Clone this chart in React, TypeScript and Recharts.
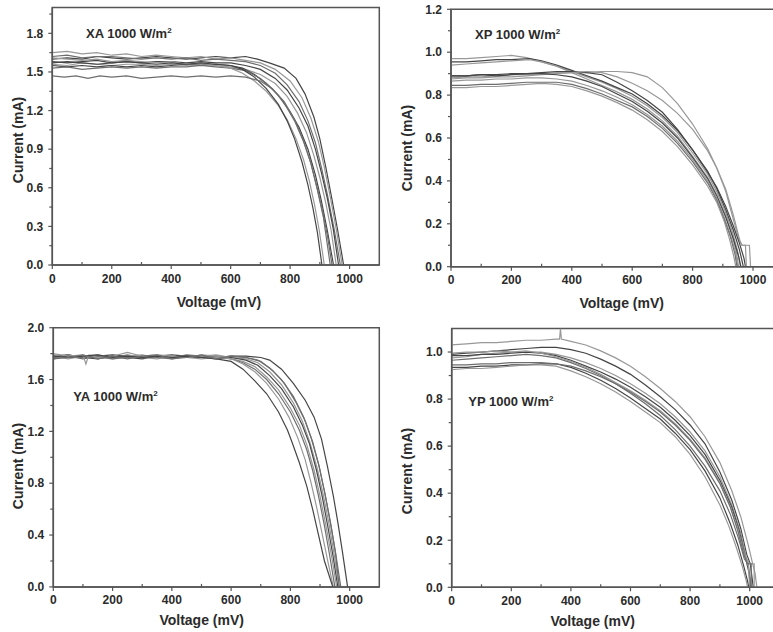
import { LineChart, Line, XAxis, YAxis, ReferenceArea } from 'recharts'

type Pt = [number, number]

// ---- XA 1000 W/m2 : voltage (mV), current (mA)
const xa1: Pt[] = [[0,1.60],[50,1.61],[100,1.60],[150,1.62],[200,1.61],[250,1.60],[300,1.61],[350,1.62],[400,1.61],[450,1.60],[500,1.61],[550,1.62],[600,1.61],[650,1.62],[690,1.60],[730,1.57],[780,1.53],[820,1.45],[850,1.33],[880,1.15],[900,0.98],[920,0.76],[940,0.52],[960,0.27],[980,0]]
const xa2: Pt[] = [[0,1.65],[50,1.66],[100,1.64],[150,1.65],[200,1.63],[250,1.64],[300,1.62],[350,1.63],[400,1.62],[450,1.61],[500,1.62],[550,1.60],[600,1.61],[650,1.59],[700,1.57],[750,1.52],[800,1.43],[840,1.30],[870,1.14],[895,0.96],[915,0.76],[935,0.53],[955,0.28],[975,0]]
const xa3: Pt[] = [[0,1.62],[50,1.63],[100,1.61],[150,1.62],[200,1.62],[250,1.61],[300,1.60],[350,1.61],[400,1.60],[450,1.61],[500,1.59],[550,1.60],[600,1.59],[650,1.58],[700,1.55],[750,1.49],[790,1.40],[830,1.27],[860,1.12],[885,0.95],[905,0.76],[925,0.55],[948,0.28],[969,0]]
const xa4: Pt[] = [[0,1.58],[50,1.57],[100,1.58],[150,1.59],[200,1.57],[250,1.58],[300,1.57],[350,1.58],[400,1.58],[450,1.57],[500,1.58],[550,1.57],[600,1.57],[650,1.55],[700,1.52],[750,1.45],[790,1.36],[830,1.22],[860,1.08],[885,0.90],[905,0.72],[925,0.52],[945,0.28],[963,0]]
const xa5: Pt[] = [[0,1.56],[50,1.55],[100,1.57],[150,1.56],[200,1.55],[250,1.56],[300,1.56],[350,1.55],[400,1.56],[450,1.55],[500,1.56],[550,1.55],[600,1.54],[650,1.52],[700,1.48],[750,1.41],[790,1.31],[825,1.18],[855,1.03],[880,0.85],[900,0.68],[920,0.48],[938,0.27],[955,0]]
const xa6: Pt[] = [[0,1.55],[50,1.54],[100,1.55],[150,1.54],[200,1.55],[250,1.54],[300,1.55],[350,1.54],[400,1.55],[450,1.56],[500,1.55],[550,1.56],[600,1.55],[640,1.53],[680,1.48],[720,1.41],[760,1.32],[800,1.19],[830,1.07],[860,0.90],[885,0.70],[905,0.50],[925,0.27],[946,0]]
const xa7: Pt[] = [[0,1.53],[50,1.54],[100,1.52],[150,1.53],[200,1.54],[250,1.53],[300,1.54],[350,1.53],[400,1.54],[450,1.54],[500,1.55],[550,1.54],[600,1.53],[650,1.51],[700,1.45],[740,1.37],[780,1.26],[815,1.12],[845,0.96],[870,0.79],[892,0.59],[910,0.41],[926,0.22],[941,0]]
const xa8: Pt[] = [[0,1.61],[50,1.60],[100,1.59],[150,1.60],[200,1.58],[250,1.59],[300,1.58],[350,1.57],[400,1.58],[450,1.56],[500,1.57],[550,1.55],[600,1.53],[640,1.49],[680,1.43],[720,1.35],[760,1.24],[790,1.13],[820,0.98],[845,0.82],[865,0.65],[882,0.47],[898,0.27],[915,0]]
const xa9: Pt[] = [[0,1.57],[50,1.58],[100,1.57],[150,1.56],[200,1.57],[250,1.58],[300,1.57],[350,1.56],[400,1.57],[450,1.56],[500,1.57],[550,1.56],[600,1.55],[640,1.52],[680,1.46],[720,1.37],[760,1.25],[790,1.12],[815,0.98],[840,0.80],[860,0.62],[877,0.44],[892,0.25],[907,0]]
const xa10: Pt[] = [[0,1.47],[40,1.46],[80,1.47],[120,1.45],[160,1.47],[200,1.46],[250,1.47],[300,1.45],[350,1.46],[400,1.47],[450,1.46],[500,1.47],[550,1.46],[600,1.47],[650,1.46],[700,1.43],[740,1.37],[780,1.27],[815,1.13],[845,0.97],[870,0.79],[892,0.58],[912,0.37],[935,0]]

// ---- XP 1000 W/m2
const xp1: Pt[] = [[0,0.97],[50,0.97],[100,0.975],[150,0.98],[200,0.985],[250,0.975],[300,0.955],[350,0.935],[400,0.91],[450,0.885],[500,0.86],[550,0.83],[600,0.795],[650,0.75],[700,0.695],[750,0.625],[800,0.53],[850,0.43],[880,0.35],[910,0.25],[930,0.17],[948,0.08],[958,0]]
const xp2: Pt[] = [[0,0.955],[50,0.955],[100,0.96],[150,0.965],[200,0.965],[260,0.97],[300,0.96],[350,0.94],[400,0.915],[450,0.89],[500,0.865],[550,0.835],[600,0.805],[650,0.76],[700,0.705],[750,0.635],[800,0.545],[850,0.445],[880,0.365],[910,0.265],[935,0.17],[955,0.08],[968,0]]
const xp3: Pt[] = [[0,0.94],[50,0.945],[100,0.95],[150,0.955],[200,0.96],[260,0.965],[300,0.955],[350,0.935],[400,0.905],[450,0.875],[500,0.845],[550,0.815],[600,0.78],[650,0.735],[700,0.68],[750,0.61],[800,0.515],[850,0.415],[880,0.335],[910,0.235],[930,0.15],[945,0.07],[952,0]]
const xp4: Pt[] = [[0,0.88],[50,0.885],[100,0.885],[150,0.89],[200,0.895],[250,0.895],[300,0.90],[350,0.905],[400,0.905],[450,0.905],[500,0.91],[550,0.91],[600,0.905],[650,0.885],[700,0.835],[750,0.76],[800,0.665],[850,0.55],[880,0.46],[910,0.35],[935,0.22],[955,0.12],[965,0.10],[988,0.10],[992,0]]
const xp5: Pt[] = [[0,0.89],[50,0.89],[100,0.895],[150,0.895],[200,0.90],[250,0.90],[300,0.905],[350,0.91],[400,0.91],[450,0.905],[500,0.895],[550,0.86],[600,0.82],[650,0.775],[700,0.72],[750,0.64],[800,0.545],[850,0.44],[880,0.37],[910,0.28],[935,0.19],[955,0.11],[970,0.04],[975,0]]
const xp6: Pt[] = [[0,0.875],[50,0.88],[100,0.88],[150,0.885],[200,0.885],[250,0.89],[300,0.895],[350,0.90],[400,0.905],[450,0.91],[500,0.905],[550,0.885],[600,0.855],[650,0.82],[700,0.775],[750,0.715],[800,0.64],[850,0.54],[880,0.46],[910,0.36],[935,0.24],[955,0.13],[962,0.10],[975,0.10],[978,0]]
const xp7: Pt[] = [[0,0.89],[50,0.89],[100,0.895],[150,0.89],[200,0.895],[250,0.90],[300,0.90],[350,0.895],[400,0.885],[450,0.865],[500,0.84],[550,0.805],[600,0.77],[650,0.725],[700,0.67],[750,0.60],[800,0.51],[850,0.41],[880,0.33],[910,0.23],[935,0.13],[952,0.05],[960,0]]
const xp8: Pt[] = [[0,0.865],[50,0.87],[100,0.87],[150,0.875],[200,0.875],[250,0.88],[300,0.88],[350,0.875],[400,0.865],[450,0.845],[500,0.82],[550,0.79],[600,0.755],[650,0.71],[700,0.655],[750,0.585],[800,0.50],[850,0.40],[880,0.32],[905,0.23],[925,0.15],[942,0.07],[950,0]]
const xp9: Pt[] = [[0,0.845],[50,0.845],[100,0.85],[150,0.85],[200,0.855],[250,0.86],[300,0.86],[350,0.86],[400,0.85],[450,0.83],[500,0.805],[550,0.775],[600,0.745],[650,0.70],[700,0.645],[750,0.575],[800,0.49],[850,0.39],[880,0.31],[905,0.22],[925,0.14],[940,0.06],[947,0]]
const xp10: Pt[] = [[0,0.835],[50,0.835],[100,0.84],[150,0.84],[200,0.845],[250,0.85],[300,0.855],[350,0.85],[400,0.84],[450,0.82],[500,0.795],[550,0.765],[600,0.73],[650,0.685],[700,0.63],[750,0.56],[800,0.475],[850,0.375],[880,0.30],[905,0.21],[922,0.13],[936,0.05],[943,0]]

// ---- YA 1000 W/m2
const ya1: Pt[] = [[0,1.78],[50,1.79],[100,1.77],[150,1.78],[200,1.79],[250,1.78],[300,1.77],[350,1.78],[400,1.79],[450,1.78],[500,1.78],[550,1.77],[600,1.78],[650,1.78],[700,1.77],[730,1.75],[770,1.68],[810,1.57],[850,1.44],[880,1.31],[905,1.14],[925,0.93],[945,0.70],[960,0.50],[975,0.28],[993,0]]
const ya2: Pt[] = [[0,1.77],[50,1.78],[100,1.76],[150,1.78],[200,1.77],[250,1.79],[300,1.77],[350,1.78],[400,1.77],[450,1.79],[500,1.78],[550,1.77],[600,1.78],[650,1.77],[690,1.75],[730,1.69],[770,1.60],[810,1.47],[845,1.31],[870,1.15],[895,0.95],[915,0.74],[935,0.50],[952,0.27],[970,0]]
const ya3: Pt[] = [[0,1.79],[50,1.77],[100,1.78],[150,1.79],[200,1.77],[250,1.78],[300,1.79],[350,1.77],[400,1.78],[450,1.77],[500,1.78],[550,1.79],[600,1.77],[650,1.76],[690,1.73],[730,1.66],[770,1.56],[810,1.42],[840,1.28],[865,1.12],[890,0.92],[910,0.72],[930,0.49],[947,0.26],[964,0]]
const ya4: Pt[] = [[0,1.76],[50,1.78],[100,1.77],[150,1.76],[200,1.78],[250,1.77],[300,1.76],[350,1.78],[400,1.77],[450,1.78],[500,1.77],[550,1.76],[600,1.77],[650,1.75],[690,1.71],[730,1.63],[770,1.53],[810,1.39],[840,1.25],[865,1.10],[888,0.90],[908,0.69],[926,0.47],[943,0.25],[960,0]]
const ya5: Pt[] = [[0,1.78],[50,1.76],[100,1.78],[150,1.77],[200,1.76],[250,1.78],[300,1.77],[350,1.76],[400,1.78],[450,1.77],[500,1.76],[550,1.77],[600,1.76],[640,1.74],[680,1.70],[720,1.62],[760,1.52],[800,1.38],[830,1.25],[855,1.10],[880,0.90],[900,0.70],[920,0.47],[938,0.25],[956,0]]
const ya6: Pt[] = [[0,1.77],[50,1.79],[100,1.77],[150,1.78],[200,1.76],[250,1.77],[300,1.78],[350,1.77],[400,1.76],[450,1.78],[500,1.77],[550,1.78],[600,1.76],[640,1.73],[680,1.68],[720,1.60],[760,1.49],[800,1.35],[830,1.21],[855,1.06],[875,0.90],[895,0.70],[915,0.47],[932,0.25],[950,0]]
const ya7: Pt[] = [[0,1.80],[50,1.78],[100,1.79],[110,1.72],[120,1.79],[150,1.77],[200,1.78],[250,1.81],[300,1.78],[350,1.79],[400,1.78],[450,1.77],[500,1.79],[550,1.78],[600,1.76],[640,1.72],[680,1.66],[720,1.57],[760,1.45],[795,1.31],[825,1.15],[850,0.98],[870,0.80],[890,0.60],[908,0.40],[926,0.20],[945,0]]
const ya8: Pt[] = [[0,1.78],[50,1.77],[100,1.78],[150,1.79],[200,1.77],[250,1.78],[300,1.77],[350,1.78],[400,1.77],[450,1.78],[500,1.77],[550,1.76],[600,1.74],[640,1.68],[680,1.59],[720,1.49],[760,1.35],[790,1.21],[805,1.12],[830,0.96],[855,0.78],[875,0.60],[895,0.40],[915,0.20],[943,0]]
const ya9: Pt[] = [[0,1.76],[50,1.77],[100,1.79],[150,1.76],[200,1.78],[250,1.76],[300,1.78],[350,1.79],[400,1.76],[450,1.77],[500,1.79],[550,1.76],[600,1.78],[650,1.77],[700,1.74],[740,1.67],[780,1.57],[820,1.42],[850,1.28],[875,1.12],[898,0.92],[918,0.70],[937,0.47],[952,0.26],[965,0]]

// ---- YP 1000 W/m2
const yp1: Pt[] = [[0,1.03],[50,1.035],[100,1.04],[150,1.04],[200,1.045],[250,1.05],[300,1.05],[350,1.055],[362,1.055],[365,1.10],[368,1.055],[400,1.045],[450,1.03],[500,1.005],[550,0.975],[600,0.94],[650,0.895],[700,0.845],[750,0.79],[800,0.725],[850,0.64],[900,0.53],[940,0.41],[970,0.30],[995,0.18],[1010,0.10],[1018,0.06],[1024,0]]
const yp2: Pt[] = [[0,0.99],[50,0.995],[100,1.0],[150,1.005],[200,1.01],[250,1.015],[300,1.02],[350,1.02],[400,1.01],[450,0.995],[500,0.97],[550,0.94],[600,0.905],[650,0.86],[700,0.81],[750,0.755],[800,0.69],[850,0.61],[900,0.49],[940,0.37],[970,0.25],[990,0.14],[1002,0.10],[1012,0]]
const yp3: Pt[] = [[0,0.975],[50,0.98],[100,0.99],[150,0.995],[200,1.0],[250,1.0],[300,1.0],[350,0.99],[400,0.975],[450,0.955],[500,0.93],[550,0.90],[600,0.865],[650,0.825],[700,0.78],[750,0.725],[800,0.66],[850,0.58],[900,0.47],[940,0.35],[970,0.23],[990,0.12],[1000,0.10],[1015,0.10],[1015,0]]
const yp4: Pt[] = [[0,0.985],[50,0.985],[100,0.99],[150,0.99],[200,0.995],[250,1.0],[300,0.995],[350,0.985],[400,0.965],[450,0.94],[500,0.915],[550,0.885],[600,0.85],[650,0.81],[700,0.765],[750,0.71],[800,0.645],[850,0.565],[900,0.455],[940,0.34],[965,0.24],[985,0.13],[998,0.06],[1003,0]]
const yp5: Pt[] = [[0,0.965],[50,0.97],[100,0.975],[150,0.98],[200,0.985],[250,0.99],[300,0.985],[350,0.975],[400,0.955],[450,0.93],[500,0.90],[550,0.865],[600,0.825],[650,0.78],[700,0.73],[750,0.67],[800,0.60],[850,0.515],[900,0.41],[935,0.31],[962,0.21],[982,0.12],[995,0.10],[1005,0]]
const yp6: Pt[] = [[0,0.995],[50,1.0],[100,1.0],[150,1.005],[200,1.0],[250,1.005],[300,0.995],[350,0.98],[400,0.96],[450,0.935],[500,0.905],[550,0.87],[600,0.835],[650,0.795],[700,0.75],[750,0.695],[800,0.63],[850,0.55],[900,0.445],[935,0.345],[960,0.25],[980,0.15],[995,0.10],[1000,0]]
const yp7: Pt[] = [[0,0.935],[50,0.935],[100,0.94],[150,0.94],[200,0.945],[250,0.945],[300,0.95],[350,0.95],[400,0.935],[450,0.91],[500,0.88],[550,0.845],[600,0.805],[650,0.76],[700,0.715],[750,0.655],[800,0.585],[850,0.495],[900,0.38],[935,0.27],[960,0.18],[980,0.09],[992,0.03],[997,0]]
const yp8: Pt[] = [[0,0.925],[50,0.93],[100,0.93],[150,0.935],[200,0.94],[250,0.945],[300,0.945],[350,0.94],[400,0.92],[450,0.895],[500,0.865],[550,0.83],[600,0.79],[650,0.745],[700,0.70],[750,0.64],[800,0.565],[850,0.47],[900,0.35],[930,0.26],[955,0.17],[975,0.09],[988,0.03],[993,0]]
const yp9: Pt[] = [[0,0.945],[50,0.945],[100,0.95],[150,0.95],[200,0.955],[250,0.955],[300,0.955],[350,0.95],[400,0.94],[450,0.92],[500,0.895],[550,0.865],[600,0.83],[650,0.79],[700,0.745],[750,0.69],[800,0.625],[850,0.545],[900,0.44],[935,0.34],[960,0.24],[980,0.14],[992,0.10],[1005,0.10],[1005,0]]

// axis ticks (major + minor, alternating)
const voltTicks = [0, 100, 200, 300, 400, 500, 600, 700, 800, 900, 1000]
const xaTicks = [0, 0.15, 0.3, 0.45, 0.6, 0.75, 0.9, 1.05, 1.2, 1.35, 1.5, 1.65, 1.8, 1.95]
const xpTicks = [0, 0.1, 0.2, 0.3, 0.4, 0.5, 0.6, 0.7, 0.8, 0.9, 1.0, 1.1, 1.2]
const yaTicks = [0, 0.2, 0.4, 0.6, 0.8, 1.0, 1.2, 1.4, 1.6, 1.8, 2.0]
const ypTicks = [0, 0.1, 0.2, 0.3, 0.4, 0.5, 0.6, 0.7, 0.8, 0.9, 1.0]

const DARK = '#454545'
const MID = '#6e6e6e'
const LIGHT = '#989898'
const AXIS = '#555'
const INK = '#2b2b2b'
const FONT = '"Liberation Sans", Arial, sans-serif'
const TICK = 4
const GAP = 5

function XTick(props: any) {
  const { x, y, payload, index } = props
  const base = y - TICK - GAP
  const major = index % 2 === 0
  return (
    <g>
      <line x1={x} x2={x} y1={base} y2={major ? base + TICK : base - 3} stroke={AXIS} strokeWidth={1.2} />
      {major && (
        <text x={x} y={y} dy="0.71em" textAnchor="middle" fontSize={12} fontWeight="bold" fill={INK} fontFamily={FONT}>
          {payload.value}
        </text>
      )}
    </g>
  )
}

function YTick(props: any) {
  const { x, y, payload, index } = props
  const base = x + TICK + GAP
  const major = index % 2 === 0
  return (
    <g>
      <line x1={base} x2={base - (major ? TICK : 3)} y1={y} y2={y} stroke={AXIS} strokeWidth={1.2} />
      {major && (
        <text x={x} y={y} dy="0.355em" textAnchor="end" fontSize={12} fontWeight="bold" fill={INK} fontFamily={FONT}>
          {Number(payload.value).toFixed(1)}
        </text>
      )}
    </g>
  )
}

interface PanelProps {
  curves: Pt[][]
  strokes: string[]
  left: number
  top: number
  width: number
  height: number
  plotTop: number
  plotRight: number
  yAxisWidth: number
  xAxisHeight: number
  yMax: number
  yTicks: number[]
}

function Panel(p: PanelProps) {
  return (
    <div style={{ position: 'absolute', left: p.left, top: p.top }}>
      <LineChart
        width={p.width}
        height={p.height}
        margin={{ top: p.plotTop, right: p.width - p.plotRight, bottom: 0, left: 0 }}
      >
        <XAxis
          dataKey="v"
          type="number"
          domain={[0, 1100]}
          ticks={voltTicks}
          interval={0}
          height={p.xAxisHeight}
          tickSize={TICK}
          tickMargin={GAP}
          tickLine={false}
          tick={<XTick />}
          axisLine={{ stroke: AXIS, strokeWidth: 1.5 }}
        />
        <YAxis
          type="number"
          domain={[0, p.yMax]}
          ticks={p.yTicks}
          interval={0}
          width={p.yAxisWidth}
          tickSize={TICK}
          tickMargin={GAP}
          tickLine={false}
          tick={<YTick />}
          axisLine={{ stroke: AXIS, strokeWidth: 1.5 }}
          allowDataOverflow
        />
        <ReferenceArea x1={0} x2={1100} y1={0} y2={p.yMax} fill="none" stroke={AXIS} strokeWidth={1.5} ifOverflow="visible" />
        {p.curves.map((c, k) => (
          <Line
            key={k}
            data={c.map(([v, i]) => ({ v, i }))}
            dataKey="i"
            type="linear"
            dot={false}
            activeDot={false}
            stroke={p.strokes[k]}
            strokeWidth={1.2}
            isAnimationActive={false}
          />
        ))}
      </LineChart>
    </div>
  )
}

function Tag({ name, x, y }: { name: string; x: number; y: number }) {
  return (
    <div style={{ position: 'absolute', left: x, top: y - 6.5, fontFamily: FONT, fontWeight: 'bold', fontSize: 13, lineHeight: '13px', color: INK, whiteSpace: 'nowrap' }}>
      {name} 1000 W/m<span style={{ fontSize: 8, position: 'relative', top: -5 }}>2</span>
    </div>
  )
}

function Title({ text, x, y, vertical }: { text: string; x: number; y: number; vertical?: boolean }) {
  return (
    <div
      style={{
        position: 'absolute', left: x, top: y, fontFamily: FONT, fontWeight: 'bold', fontSize: 14,
        lineHeight: '14px', color: INK, whiteSpace: 'nowrap',
        transform: vertical ? 'translate(-50%, -50%) rotate(-90deg)' : 'translate(-50%, -50%)',
      }}
    >
      {text}
    </div>
  )
}

export default function App() {
  return (
    <div style={{ position: 'absolute', left: 0, top: 0, width: 773, height: 632, overflow: 'hidden', background: '#fff' }}>
      <Panel
        curves={[xa1, xa2, xa3, xa4, xa5, xa6, xa7, xa8, xa9, xa10]}
        strokes={[DARK, LIGHT, MID, DARK, LIGHT, DARK, MID, LIGHT, DARK, MID]}
        left={0} top={0} width={390} height={316}
        plotTop={7.6} plotRight={379.3} yAxisWidth={52.3} xAxisHeight={51}
        yMax={2.0} yTicks={xaTicks}
      />
      <Panel
        curves={[xp1, xp2, xp3, xp4, xp5, xp6, xp7, xp8, xp9, xp10]}
        strokes={[LIGHT, DARK, LIGHT, LIGHT, DARK, LIGHT, DARK, LIGHT, MID, LIGHT]}
        left={390} top={0} width={400} height={316}
        plotTop={9.3} plotRight={393.2} yAxisWidth={61} xAxisHeight={49.3}
        yMax={1.2} yTicks={xpTicks}
      />
      <Panel
        curves={[ya1, ya2, ya3, ya4, ya5, ya6, ya7, ya8, ya9]}
        strokes={[DARK, MID, LIGHT, DARK, LIGHT, MID, LIGHT, DARK, MID]}
        left={0} top={316} width={390} height={316}
        plotTop={11.7} plotRight={379.3} yAxisWidth={53.3} xAxisHeight={45.1}
        yMax={2.0} yTicks={yaTicks}
      />
      <Panel
        curves={[yp1, yp2, yp3, yp4, yp5, yp6, yp7, yp8, yp9]}
        strokes={[LIGHT, DARK, LIGHT, DARK, MID, LIGHT, DARK, LIGHT, MID]}
        left={390} top={316} width={400} height={316}
        plotTop={12.5} plotRight={389.5} yAxisWidth={61.7} xAxisHeight={44.7}
        yMax={1.1} yTicks={ypTicks}
      />

      <Tag name="XA" x={86} y={33.3} />
      <Tag name="XP" x={475} y={34.3} />
      <Tag name="YA" x={73.3} y={396} />
      <Tag name="YP" x={468.3} y={401} />

      <Title text="Voltage (mV)" x={219} y={302} />
      <Title text="Voltage (mV)" x={621.7} y={303.3} />
      <Title text="Voltage (mV)" x={201.7} y={620} />
      <Title text="Voltage (mV)" x={592.7} y={621} />

      <Title text="Current (mA)" x={18.3} y={140} vertical />
      <Title text="Current (mA)" x={406.7} y={147.7} vertical />
      <Title text="Current (mA)" x={18.3} y={466} vertical />
      <Title text="Current (mA)" x={406.7} y={471} vertical />
    </div>
  )
}
